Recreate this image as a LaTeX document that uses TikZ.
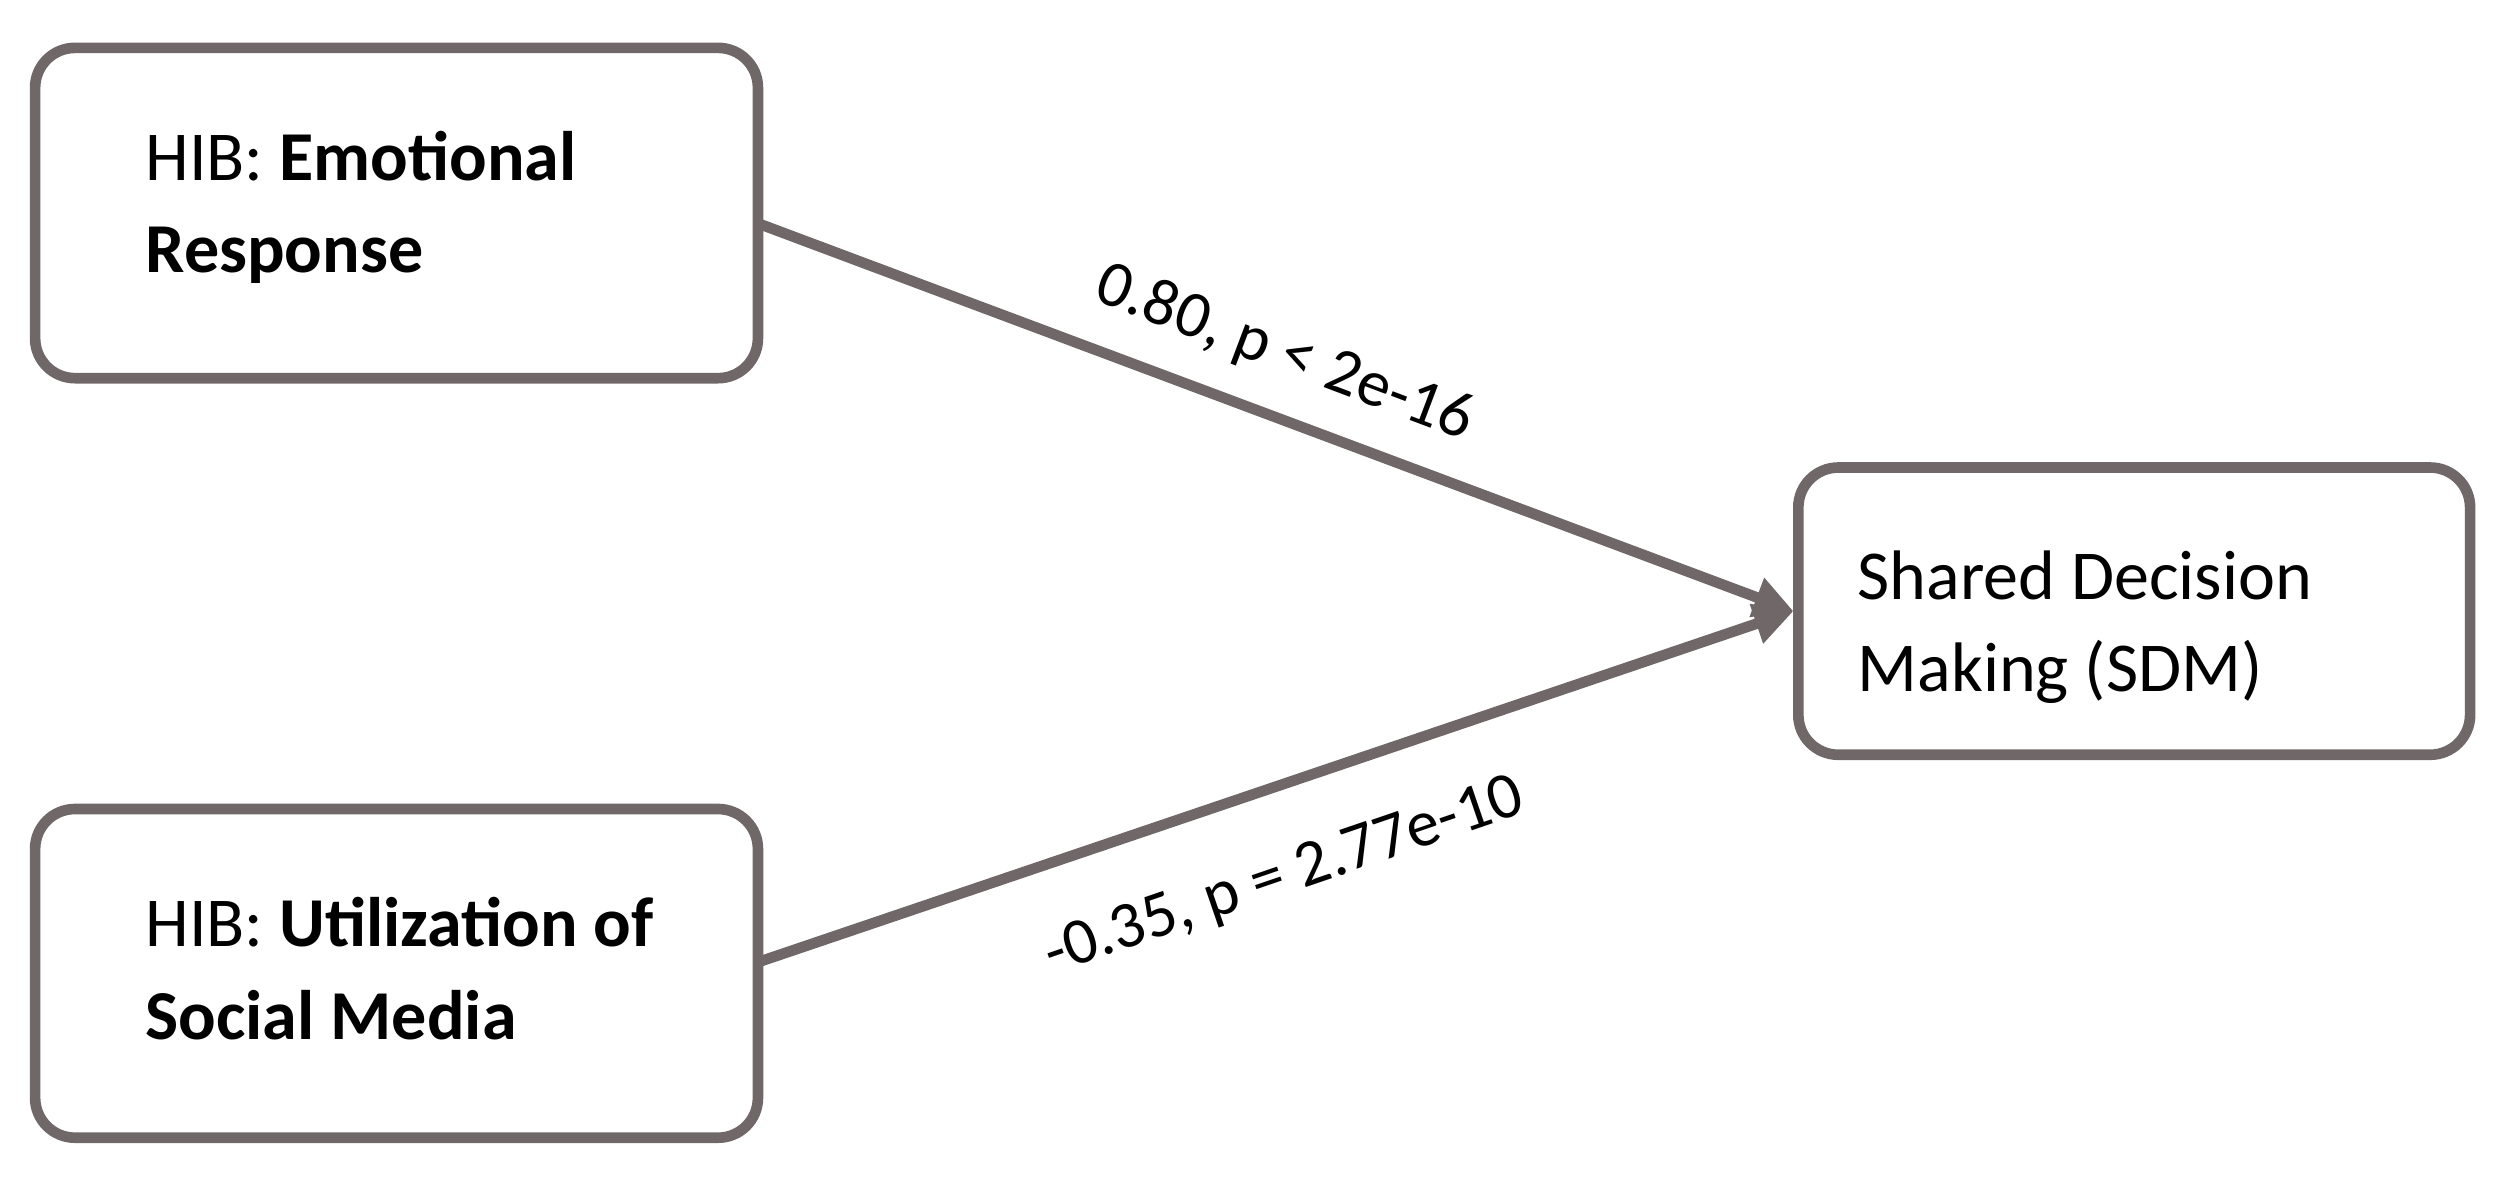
\documentclass[tikz,border=0pt]{standalone}
\usepackage{fontspec}
\setmainfont{Carlito}
\usetikzlibrary{arrows.meta}
\definecolor{gr}{RGB}{112,104,104}
\begin{document}
\begin{tikzpicture}[x=0.02cm,y=-0.02cm,
 box/.style={draw=gr,line width=3.8pt,rounded corners=0.5cm,inner sep=0pt},
 txt/.style={align=left,anchor=west,font=\fontsize{25}{33}\selectfont,text=black},
 con/.style={draw=gr,line width=3.8pt,-{Triangle[length=14pt,width=14pt]}},
 lab/.style={font=\fontsize{23.5}{26}\selectfont}]
\useasboundingbox (0,0) rectangle (1568,740);
\draw[box] (22,30) rectangle (475,237);
\coordinate (a) at (475,140);
\node[txt] at (85,130) {HIB: \textbf{Emotional}\\\textbf{Response}};
\draw[box] (22,507) rectangle (475,713);
\coordinate (b) at (475,603);
\node[txt] at (85,607) {HIB: \textbf{Utilization of}\\\textbf{Social Media}};
\draw[box] (1127,293) rectangle (1548,473);
\coordinate (c) at (1124,383);
\node[txt] at (1158,393) {Shared Decision\\Making (SDM)};
\draw[con] (a) -- (c);
\draw[con] (b) -- (c);
\node[lab,rotate=-20.7] at (805,222) {0.80, p < 2e-16};
\node[lab,rotate=18.9] at (805,550) {-0.35, p = 2.77e-10};
\end{tikzpicture}
\end{document}
